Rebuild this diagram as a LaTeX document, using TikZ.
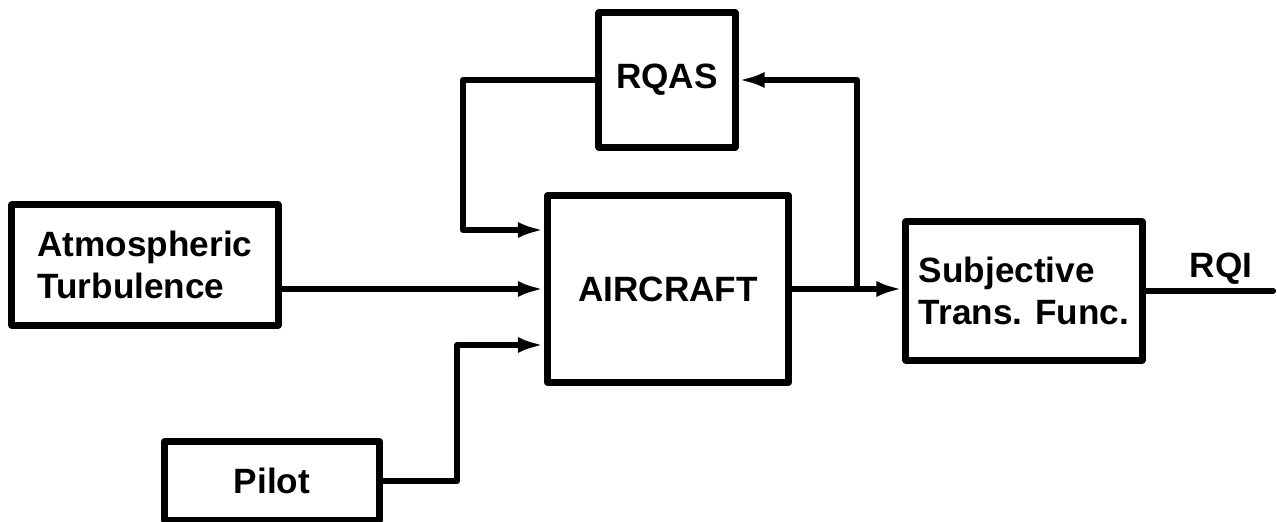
\documentclass[tikz,border=0pt]{standalone}
\usepackage{fontspec}
\setmainfont{Liberation Sans}
\usetikzlibrary{arrows.meta,positioning}

\tikzset{
  block/.style={draw,line width=2pt,inner sep=0pt,font=\bfseries\fontsize{10}{12}\selectfont},
  wire/.style={line width=1.7pt},
  arr/.style={wire,-{Latex[length=2.6mm,width=1.6mm]}}
}

\begin{document}
\begin{tikzpicture}[x=0.01cm,y=-0.01cm,line cap=round,line join=round]
  \useasboundingbox (0,0) rectangle (1277,522);
  % blocks
  \node[block,minimum width=1.36cm,minimum height=1.34cm] (rqas) at (667,80) {RQAS};
  \node[block,minimum width=2.41cm,minimum height=1.86cm] (ac) at (668,289) {AIRCRAFT};
  \node[block,align=left,minimum width=2.66cm,minimum height=1.2cm] (atm) at (145,265) {Atmospheric\\Turbulence};
  \node[block,minimum width=2.15cm,minimum height=0.78cm] (pilot) at (272,481) {Pilot};
  \node[block,align=left,minimum width=2.36cm,minimum height=1.38cm] (stf) at (1024,291) {Subjective\\Trans. Func.};
  % corners of the wires
  \coordinate (fb) at (463,230);\coordinate (pl) at (457,345);
  \coordinate (br) at (857,289);\coordinate (rqi) at (1273,291);
  % wires
  \draw[arr] (rqas.west) -| (fb) -- (fb -| ac.west);
  \draw[arr] (atm.east |- ac.west) -- (ac.west);
  \draw[arr] (pilot.east) -| (pl) -- (pl -| ac.west);
  \draw[arr] (ac.east) -- (ac.east -| stf.west);
  \draw[arr] (br) |- (rqas.east);
  \draw[wire] (stf.east) -- (rqi);
  \node[font=\bfseries\fontsize{10}{12}\selectfont,anchor=base] (rqilab) at (1221,278) {RQI};
\end{tikzpicture}
\end{document}
